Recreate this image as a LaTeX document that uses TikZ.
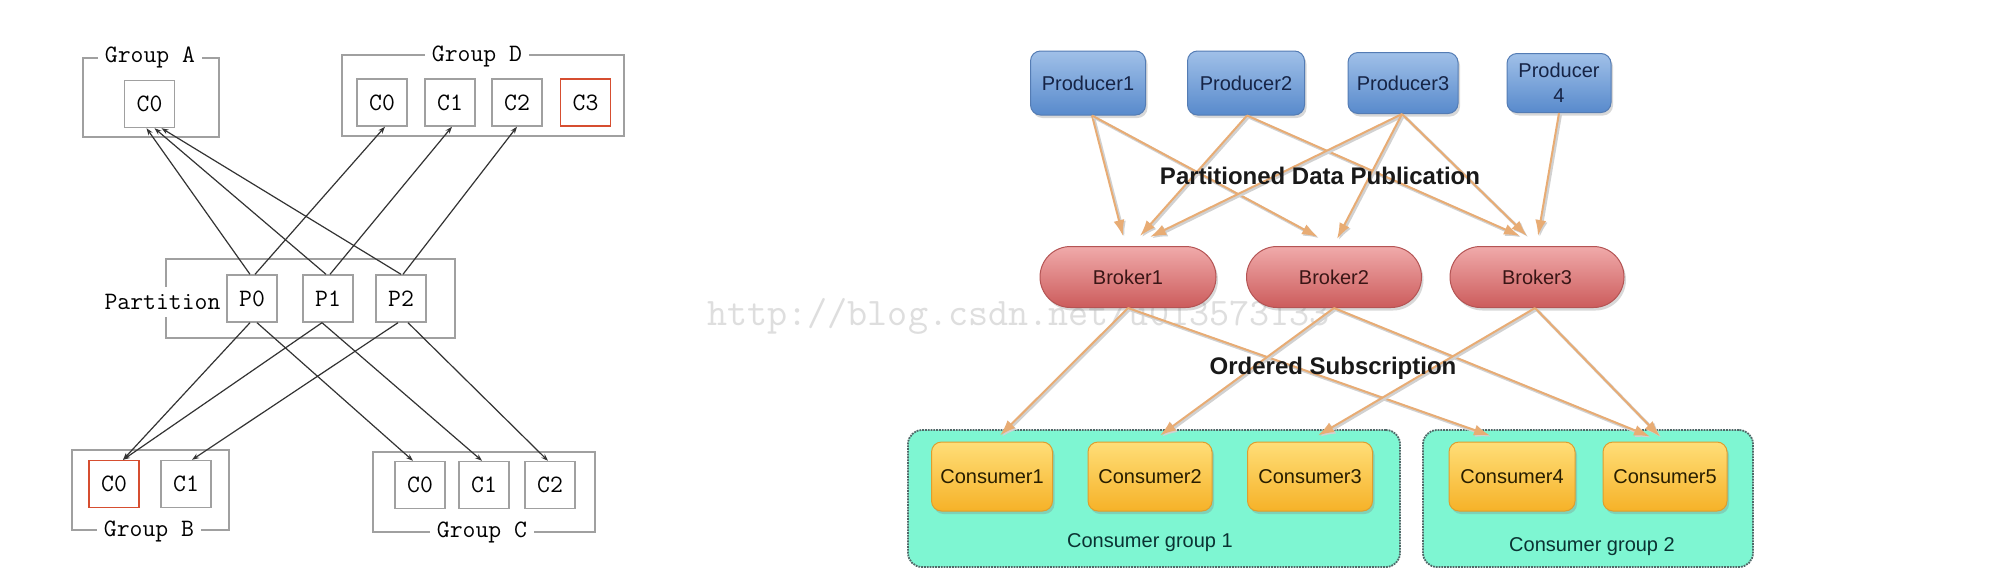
\documentclass[tikz,border=0pt]{standalone}
\usepackage{fontspec}
\setmainfont{Liberation Sans}
\usetikzlibrary{arrows.meta,shapes.misc,shadows}
\definecolor{boxgray}{RGB}{160,160,160}
\definecolor{redc}{RGB}{214,78,48}
\definecolor{wmark}{RGB}{222,222,222}
\definecolor{prodtop}{RGB}{160,192,232}
\definecolor{prodbot}{RGB}{88,138,204}
\definecolor{prodborder}{RGB}{84,124,180}
\definecolor{prodtext}{RGB}{22,36,70}
\definecolor{broktop}{RGB}{240,170,170}
\definecolor{brokbot}{RGB}{204,92,92}
\definecolor{brokborder}{RGB}{180,84,84}
\definecolor{broktext}{RGB}{58,22,22}
\definecolor{constop}{RGB}{255,222,120}
\definecolor{consbot}{RGB}{246,178,40}
\definecolor{consborder}{RGB}{222,158,46}
\definecolor{constext}{RGB}{40,30,0}
\definecolor{aqua}{RGB}{126,246,210}
\definecolor{dotc}{RGB}{80,104,104}
\definecolor{arrc}{RGB}{232,172,116}
\definecolor{grptext}{RGB}{10,50,50}
\newcommand{\lfnt}{\ttfamily\fontsize{25}{28}\selectfont}
\newcommand{\rfnt}{\fontsize{20}{25}\selectfont}
\tikzset{
  lbox/.style={draw=boxgray, line width=1.4pt, minimum width=50pt, minimum height=47pt,
    inner sep=0pt, fill=white, font=\lfnt},
  redbox/.style={lbox, draw=redc},
  grp/.style={draw=boxgray, line width=1.4pt, inner sep=0pt},
  grplabel/.style={fill=white, inner xsep=7pt, inner ysep=2pt, font=\lfnt},
  larrow/.style={draw=black!80, line width=1.2pt, -{Stealth[length=7pt,width=5pt]}},
  prod/.style={rounded corners=10pt, draw=prodborder, line width=1pt, top color=prodtop,
    bottom color=prodbot, inner sep=0pt, font=\rfnt, text=prodtext, align=center,
    drop shadow={shadow xshift=2pt, shadow yshift=-3pt, opacity=0.3}},
  brok/.style={rounded rectangle, draw=brokborder, line width=1pt, top color=broktop,
    bottom color=brokbot, inner sep=0pt, minimum height=61pt, font=\rfnt, text=broktext,
    drop shadow={shadow xshift=2pt, shadow yshift=-3pt, opacity=0.3}},
  cons/.style={rounded corners=10pt, draw=consborder, line width=1pt, top color=constop,
    bottom color=consbot, inner sep=0pt, minimum height=69pt, font=\rfnt, text=constext,
    drop shadow={shadow xshift=2pt, shadow yshift=-3pt, opacity=0.3}},
  cgroup/.style={rounded corners=14pt, fill=aqua, draw=dotc, densely dotted, line width=1.8pt, inner sep=0pt},
  parrow/.style={draw=arrc, line width=2pt, -{Latex[length=16pt,width=11pt]},
    preaction={draw=black!18, line width=3pt, transform canvas={xshift=1.5pt,yshift=-1.5pt}}},
  heading/.style={font=\bfseries\fontsize{24}{28}\selectfont, text=black!90},
  grptitle/.style={font=\rfnt, text=grptext}
}
\begin{document}
\begin{tikzpicture}[x=1pt,y=-1pt]
\useasboundingbox[fill=white] (0,0) rectangle (1998,584);

% watermark
\node[anchor=base west, inner sep=0pt, text=wmark, font=\ttfamily\fontsize{39}{40}\selectfont] (wm) at (707,325) {http://blog.csdn.net/u013573133};

% ---------------- left diagram ----------------
\node[grp, minimum width=136pt, minimum height=79pt] (gA) at (151,97.5) {};
\node[grplabel] (gAl) at (150,57) {Group A};
\node[lbox] (ac0) at (149.5,104) {C0};

\node[grp, minimum width=282pt, minimum height=81pt] (gD) at (483,95.5) {};
\node[grplabel] (gDl) at (477,56) {Group D};
\node[lbox] (dc0) at (382,102.5) {C0};
\node[lbox] (dc1) at (450,102.5) {C1};
\node[lbox] (dc2) at (517,102.5) {C2};
\node[redbox] (dc3) at (585.5,102.5) {C3};

\node[grp, minimum width=289pt, minimum height=79pt] (gP) at (310.5,298.5) {};
\node[fill=white, inner xsep=1pt, inner ysep=7pt, font=\lfnt] (gPl) at (162.5,302) {Partition};
\node[lbox] (p0) at (252,298.5) {P0};
\node[lbox] (p1) at (328,298.5) {P1};
\node[lbox] (p2) at (401,298.5) {P2};

\node[grp, minimum width=157pt, minimum height=80pt] (gB) at (150.5,490) {};
\node[grplabel] (gBl) at (149,531) {Group B};
\node[redbox] (bc0) at (114,484) {C0};
\node[lbox] (bc1) at (186,484) {C1};

\node[grp, minimum width=222pt, minimum height=80pt] (gC) at (484,492) {};
\node[grplabel] (gCl) at (482,532) {Group C};
\node[lbox] (cc0) at (420,485) {C0};
\node[lbox] (cc1) at (484,485) {C1};
\node[lbox] (cc2) at (550,485) {C2};

\draw[larrow] ([xshift=-2pt]p0.north) -- ([xshift=-3pt]ac0.south);
\draw[larrow] ([xshift=-2pt]p1.north) -- ([xshift=5pt]ac0.south);
\draw[larrow] (p2.north) -- ([xshift=12pt]ac0.south);
\draw[larrow] ([xshift=3pt]p0.north) -- ([xshift=3pt]dc0.south);
\draw[larrow] ([xshift=2pt]p1.north) -- ([xshift=2pt]dc1.south);
\draw[larrow] ([xshift=2pt]p2.north) -- (dc2.south);
\draw[larrow] ([xshift=-2pt]p0.south) -- ([xshift=9pt]bc0.north);
\draw[larrow] ([xshift=-6pt]p1.south) -- ([xshift=9pt]bc0.north);
\draw[larrow] ([xshift=-3pt]p2.south) -- ([xshift=6pt]bc1.north);
\draw[larrow] ([xshift=5pt]p0.south) -- ([xshift=-7pt]cc0.north);
\draw[larrow] ([xshift=-6pt]p1.south) ++(0,0) -- ([xshift=-2pt]cc1.north);
\draw[larrow] ([xshift=7pt]p2.south) -- ([xshift=-2pt]cc2.north);

% ---------------- right diagram ----------------
\node[cgroup, minimum width=492pt, minimum height=137pt] (cg1) at (1154,498.5) {};
\node[cgroup, minimum width=330pt, minimum height=137pt] (cg2) at (1588,498.5) {};
\node[grptitle] (cg1l) at (1150,543) {Consumer group 1};
\node[grptitle] (cg2l) at (1592,547) {Consumer group 2};

\node[prod, minimum width=115pt, minimum height=64pt] (pr1) at (1088,83) {Producer1};
\node[prod, minimum width=117pt, minimum height=64pt] (pr2) at (1246,83) {Producer2};
\node[prod, minimum width=110pt, minimum height=61pt] (pr3) at (1403,83) {Producer3};
\node[prod, minimum width=104pt, minimum height=59pt] (pr4) at (1559,83) {Producer\\4};

\node[brok, minimum width=176pt] (b1) at (1128,277) {Broker1};
\node[brok, minimum width=175pt] (b2) at (1334,277) {Broker2};
\node[brok, minimum width=174pt] (b3) at (1537,277) {Broker3};

\node[cons, minimum width=121pt] (c1) at (992,476.5) {Consumer1};
\node[cons, minimum width=124pt] (c2) at (1150,476.5) {Consumer2};
\node[cons, minimum width=125pt] (c3) at (1310,476.5) {Consumer3};
\node[cons, minimum width=126pt] (c4) at (1512,476.5) {Consumer4};
\node[cons, minimum width=124pt] (c5) at (1665,476.5) {Consumer5};

\draw[parrow] ([xshift=4pt]pr1.south) -- ([xshift=-5pt,yshift=10pt]b1.north);
\draw[parrow] ([xshift=4pt]pr1.south) -- ([xshift=-16pt,yshift=9pt]b2.north);
\draw[parrow] ([xshift=1pt]pr2.south) -- ([xshift=12pt,yshift=10pt]b1.north);
\draw[parrow] ([xshift=1pt]pr2.south) -- ([xshift=-17pt,yshift=10pt]b3.north);
\draw[parrow] ([xshift=-1pt]pr3.south) -- ([xshift=22pt,yshift=9pt]b1.north);
\draw[parrow] ([xshift=-1pt]pr3.south) -- ([xshift=3pt,yshift=7pt]b2.north);
\draw[parrow] ([xshift=-1pt]pr3.south) -- ([xshift=-10pt,yshift=10pt]b3.north);
\draw[parrow] (pr4.south) -- ([xshift=1pt,yshift=10pt]b3.north);

\draw[parrow] (b1.south) -- ([xshift=8pt,yshift=6pt]c1.north);
\draw[parrow] (b1.south) -- ([xshift=-22pt,yshift=6pt]c4.north);
\draw[parrow] (b2.south) -- ([xshift=10pt,yshift=6pt]c2.north);
\draw[parrow] (b2.south) -- ([xshift=-15pt,yshift=5pt]c5.north);
\draw[parrow] ([xshift=-2pt]b3.south) -- ([xshift=8pt,yshift=6pt]c3.north);
\draw[parrow] ([xshift=-2pt]b3.south) -- ([xshift=-5pt,yshift=5pt]c5.north);

\node[heading] (hpub) at (1320,176) {Partitioned Data Publication};
\node[heading] (hsub) at (1333,368) {Ordered Subscription};
\end{tikzpicture}
\end{document}
